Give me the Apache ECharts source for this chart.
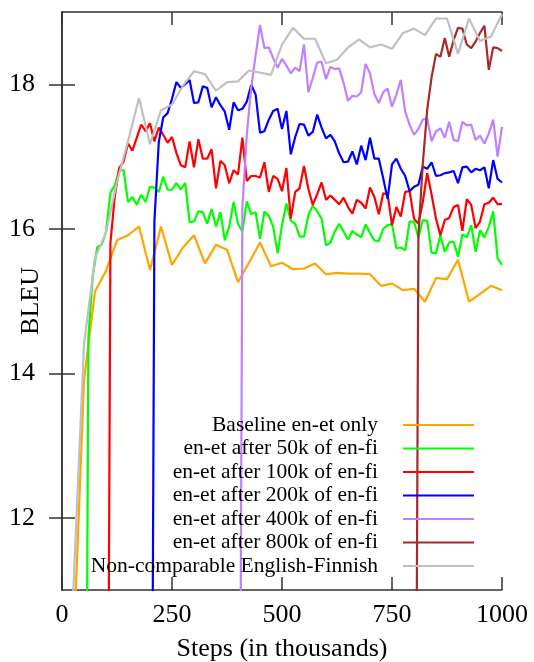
<!DOCTYPE html>
<html>
<head>
<meta charset="utf-8">
<script src="https://cdn.jsdelivr.net/npm/echarts@6/dist/echarts.min.js"></script>
<style>
  html, body { margin: 0; padding: 0; background: #fff; }
  #chart { width: 534px; height: 662px; }
</style>
</head>
<body>
<div id="chart"></div>
<script>
// tick labels
const xTicks = [0, 250, 500, 750, 1000]
const yTicks = [12, 14, 16, 18]

// baseline and en-fi reference were evaluated every 25k steps
const steps25 = [25, 50, 75, 100, 125, 150, 175, 200, 225, 250, 275, 300, 325, 350, 375, 400, 425, 450, 475, 500,
  525, 550, 575, 600, 625, 650, 675, 700, 725, 750, 775, 800, 825, 850, 875, 900, 925, 950, 975, 1000]
const baseline = [10.0, 13.9, 15.13, 15.42, 15.84, 15.91, 16.03, 15.43, 16.03, 15.50, 15.74, 15.91, 15.52, 15.78, 15.71, 15.26, 15.53, 15.81, 15.48, 15.53,
  15.44, 15.45, 15.52, 15.37, 15.39, 15.38, 15.38, 15.37, 15.21, 15.24, 15.15, 15.17, 14.99, 15.32, 15.30, 15.57, 14.99, 15.10, 15.21, 15.15]
const enFi = [10.9, 14.4, 15.59, 15.95, 16.65, 17.21, 17.81, 17.17, 17.64, 17.72, 17.98, 18.18, 18.14, 17.91, 18.03, 18.04, 18.19, 18.16, 18.13, 18.55,
  18.78, 18.63, 18.63, 18.29, 18.34, 18.51, 18.62, 18.51, 18.55, 18.49, 18.71, 18.77, 18.68, 18.91, 18.91, 18.42, 18.91, 18.60, 18.66, 18.97]

// [step, BLEU] for the continued runs
const after50k = [[50, 2], [60, 14.5], [70, 15.35], [80, 15.74], [90, 15.78], [100, 15.95], [110, 16.5], [120, 16.6], [130, 16.81], [140, 16.81],
  [150, 16.37], [160, 16.44], [170, 16.33], [180, 16.47], [190, 16.37], [200, 16.58], [210, 16.57], [220, 16.51], [230, 16.72], [240, 16.54],
  [250, 16.54], [260, 16.63], [270, 16.54], [280, 16.63], [290, 16.09], [300, 16.10], [310, 16.24], [320, 16.23], [330, 16.07], [340, 16.27],
  [350, 16.03], [360, 16.23], [370, 15.84], [380, 16.03], [390, 16.37], [400, 16.07], [410, 15.96], [420, 16.38], [430, 16.20], [440, 16.23],
  [450, 15.86], [460, 16.24], [470, 16.18], [480, 16.03], [490, 15.66], [500, 16.05], [510, 16.35], [520, 16.11], [530, 16.07], [540, 15.89],
  [550, 15.89], [560, 16.19], [570, 16.32], [580, 16.24], [590, 16.14], [600, 15.77], [610, 15.81], [620, 15.96], [630, 16.07], [640, 15.96],
  [650, 15.85], [660, 15.97], [670, 15.92], [680, 15.88], [690, 16.06], [700, 15.94], [710, 15.84], [720, 15.83], [730, 16.00], [740, 16.05],
  [750, 16.06], [760, 15.73], [770, 15.74], [780, 15.70], [790, 16.10], [800, 16.10], [810, 15.88], [820, 16.12], [830, 16.11], [840, 15.67],
  [850, 15.66], [860, 15.91], [870, 15.68], [880, 15.81], [890, 15.82], [900, 15.61], [910, 15.92], [920, 15.88], [930, 16.05], [940, 15.68],
  [950, 15.98], [960, 15.88], [970, 16.03], [980, 16.24], [990, 15.59], [1000, 15.50]]

const after100k = [[100, 2], [110, 15.8], [120, 16.45], [130, 16.84], [140, 16.93], [150, 17.18], [160, 17.08], [170, 17.26], [180, 17.44], [190, 17.35],
  [200, 17.46], [210, 17.21], [220, 17.40], [230, 17.30], [240, 17.19], [250, 17.27], [260, 17.05], [270, 16.88], [280, 16.85], [290, 17.21],
  [300, 16.85], [310, 17.24], [320, 16.97], [330, 16.97], [340, 17.10], [350, 16.56], [360, 16.94], [370, 16.88], [380, 16.63], [390, 16.81],
  [400, 16.75], [410, 17.26], [420, 16.66], [430, 16.73], [440, 16.73], [450, 16.71], [460, 16.92], [470, 16.51], [480, 16.73], [490, 16.69],
  [500, 16.52], [510, 16.84], [520, 16.14], [530, 16.51], [540, 16.56], [550, 16.87], [560, 16.55], [570, 16.33], [580, 16.48], [590, 16.64],
  [600, 16.40], [610, 16.46], [620, 16.40], [630, 16.34], [640, 16.43], [650, 16.30], [660, 16.21], [670, 16.40], [680, 16.36], [690, 16.28],
  [700, 16.57], [710, 16.44], [720, 16.20], [730, 16.49], [740, 16.48], [750, 16.05], [760, 16.30], [770, 16.17], [780, 16.51], [790, 16.52],
  [800, 16.14], [810, 16.07], [820, 16.37], [830, 16.77], [840, 16.47], [850, 16.14], [860, 15.91], [870, 16.12], [880, 16.15], [890, 16.30],
  [900, 16.33], [910, 15.97], [920, 16.41], [930, 16.33], [940, 16.01], [950, 16.10], [960, 16.34], [970, 16.36], [980, 16.43], [990, 16.34],
  [1000, 16.34]]

const after200k = [[200, 2], [210, 16.1], [220, 17.2], [230, 17.54], [240, 17.6], [250, 17.8], [260, 18.03], [270, 17.95], [280, 18.0], [290, 18.06],
  [300, 17.74], [310, 17.75], [320, 17.97], [330, 17.95], [340, 17.68], [350, 17.82], [360, 17.71], [370, 17.62], [380, 17.37], [390, 17.75],
  [400, 17.64], [410, 17.66], [420, 17.76], [430, 17.99], [440, 17.86], [450, 17.33], [460, 17.35], [470, 17.51], [480, 17.63], [490, 17.66],
  [500, 17.38], [510, 17.63], [520, 17.03], [530, 17.27], [540, 17.45], [550, 17.44], [560, 17.29], [570, 17.34], [580, 17.58], [590, 17.40],
  [600, 17.25], [610, 17.30], [620, 17.21], [630, 17.04], [640, 16.92], [650, 16.93], [660, 17.07], [670, 16.89], [680, 17.15], [690, 16.95],
  [700, 17.26], [710, 16.97], [720, 16.97], [730, 16.70], [740, 16.41], [750, 16.89], [760, 16.97], [770, 16.83], [780, 16.73], [790, 16.52],
  [800, 16.58], [810, 16.61], [820, 16.86], [830, 16.83], [840, 16.92], [850, 16.73], [860, 16.74], [870, 16.77], [880, 16.78], [890, 16.80],
  [900, 16.63], [910, 16.85], [920, 16.86], [930, 16.78], [940, 16.83], [950, 16.81], [960, 16.85], [970, 16.56], [980, 16.95], [990, 16.69],
  [1000, 16.64]]

const after400k = [[400, 2], [410, 16.3], [420, 17.3], [430, 17.95], [440, 18.4], [450, 18.82], [460, 18.50], [470, 18.51], [480, 18.36], [490, 18.23],
  [500, 18.35], [510, 18.26], [520, 18.15], [530, 18.23], [540, 18.18], [550, 18.55], [560, 17.89], [570, 18.09], [580, 18.30], [590, 18.31],
  [600, 18.07], [610, 18.24], [620, 18.21], [630, 18.22], [640, 18.02], [650, 17.77], [660, 17.84], [670, 17.83], [680, 17.89], [690, 18.28],
  [700, 18.15], [710, 17.86], [720, 17.74], [730, 17.89], [740, 17.94], [750, 17.69], [760, 17.86], [770, 18.06], [780, 17.62], [790, 17.44],
  [800, 17.30], [810, 17.38], [820, 17.51], [830, 17.53], [840, 17.21], [850, 17.35], [860, 17.39], [870, 17.26], [880, 17.48], [890, 17.23],
  [900, 17.21], [910, 17.48], [920, 17.43], [930, 17.44], [940, 17.23], [950, 17.29], [960, 17.18], [970, 17.32], [980, 17.51], [990, 17.00],
  [1000, 17.41]]

const after800k = [[800, 2], [810, 15.9], [820, 16.9], [830, 17.65], [840, 18.1], [850, 18.42], [860, 18.38], [870, 18.64], [880, 18.38], [890, 18.61],
  [900, 18.78], [910, 18.77], [920, 18.55], [930, 18.50], [940, 18.59], [950, 18.71], [960, 18.81], [970, 18.20], [980, 18.51], [990, 18.50],
  [1000, 18.46]]

const serif = 'Liberation Serif'
const frame = { color: '#333', width: 1.5 }

function pairs(steps, vals) {
  return steps.map((s, i) => [s, vals[i]])
}

function line(name, color, data) {
  return {
    name,
    type: 'line',
    data,
    symbol: 'none',
    color,
    lineStyle: { width: 2.2, color },
    animation: false,
  }
}

const option = {
  backgroundColor: '#fff',
  grid: { left: 62, right: 32, top: 12, bottom: 72, outerBoundsMode: 'none' },
  legend: {
    orient: 'vertical',
    align: 'right',
    right: 59,
    top: 414,
    padding: 0,
    itemGap: 1.5,
    itemWidth: 71,
    itemHeight: 14,
    itemStyle: { opacity: 0 },
    textStyle: { fontFamily: serif, fontSize: 21.5, color: '#000', padding: [0, 20, 0, 0] },
  },
  xAxis: [
    {
      type: 'value', min: 0, max: 1000, position: 'bottom',
      name: 'Steps (in thousands)', nameLocation: 'middle', nameGap: 46, nameMoveOverlap: false,
      nameTextStyle: { fontFamily: serif, fontSize: 26, color: '#000' },
      axisLine: { show: true, lineStyle: frame },
      axisTick: { show: true, inside: true, length: 13, customValues: xTicks, lineStyle: frame },
      axisLabel: { customValues: xTicks, margin: 12, fontFamily: serif, fontSize: 26, color: '#000', formatter: v => String(v) },
      splitLine: { show: false },
    },
    {
      type: 'value', min: 0, max: 1000, position: 'top',
      axisLine: { show: true, lineStyle: frame },
      axisTick: { show: true, inside: true, length: 13, customValues: xTicks, lineStyle: frame },
      axisLabel: { show: false },
      splitLine: { show: false },
    },
  ],
  yAxis: [
    {
      type: 'value', min: 11, max: 19, position: 'left',
      name: 'BLEU', nameLocation: 'middle', nameGap: 18, nameMoveOverlap: false,
      nameTextStyle: { fontFamily: serif, fontSize: 26, color: '#000' },
      axisLine: { show: true, lineStyle: frame },
      axisTick: { show: true, inside: true, length: 13, customValues: yTicks, lineStyle: frame },
      axisLabel: { customValues: yTicks, margin: 27, fontFamily: serif, fontSize: 26, color: '#000' },
      splitLine: { show: false },
    },
    {
      type: 'value', min: 11, max: 19, position: 'right',
      axisLine: { show: true, lineStyle: frame },
      axisTick: { show: true, inside: true, length: 13, customValues: yTicks, lineStyle: frame },
      axisLabel: { show: false },
      splitLine: { show: false },
    },
  ],
  series: [
    line('Baseline en-et only', '#ffa500', pairs(steps25, baseline)),
    line('en-et after 50k of en-fi', '#00ff00', after50k),
    line('en-et after 100k of en-fi', '#ff0000', after100k),
    line('en-et after 200k of en-fi', '#0000ff', after200k),
    line('en-et after 400k of en-fi', '#c080ff', after400k),
    line('en-et after 800k of en-fi', '#a52a2a', after800k),
    line('Non-comparable English-Finnish', '#c0c0c0', pairs(steps25, enFi)),
  ],
}

let myChart = echarts.init(document.getElementById('chart'))
myChart.setOption(option)
</script>
</body>
</html>
